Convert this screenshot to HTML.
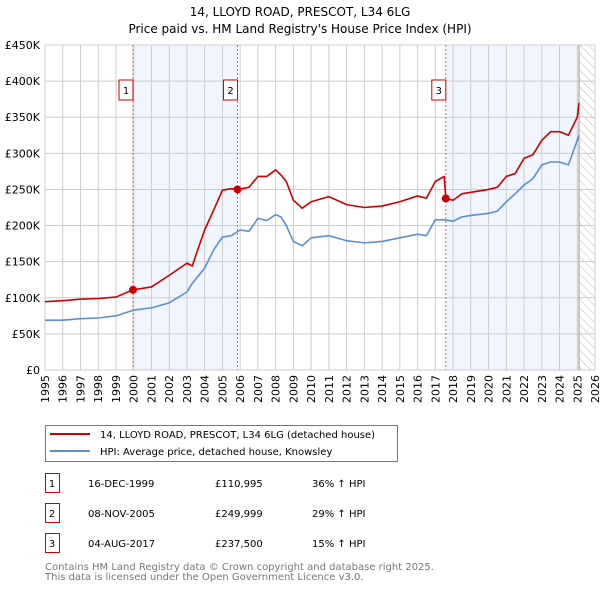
<!DOCTYPE html>
<html><head><meta charset="utf-8"><style>
body{margin:0;background:#fff;font-family:"DejaVu Sans","Liberation Sans",sans-serif}
svg{display:block}
</style></head><body>
<svg id="c" width="600" height="590" xmlns="http://www.w3.org/2000/svg" font-family="DejaVu Sans, Liberation Sans, sans-serif">
<defs><pattern id="hatch" width="6" height="6" patternUnits="userSpaceOnUse" patternTransform="rotate(-45)"><line x1="0" y1="0" x2="0" y2="6" stroke="#bbb" stroke-width="1"/></pattern></defs>
<text x="300" y="16" text-anchor="middle" font-size="12">14, LLOYD ROAD, PRESCOT, L34 6LG</text>
<text x="300" y="33" text-anchor="middle" font-size="12">Price paid vs. HM Land Registry's House Price Index (HPI)</text>
<g id="plot"></g>
<g>
<rect x="45.5" y="425.5" width="352" height="36" fill="#fff" stroke="#777"/>
<line x1="50" y1="434" x2="90" y2="434" stroke="#cc0000" stroke-width="2"/>
<text x="100" y="438" font-size="10">14, LLOYD ROAD, PRESCOT, L34 6LG (detached house)</text>
<line x1="50" y1="451" x2="90" y2="451" stroke="#5b8fd0" stroke-width="2"/>
<text x="100" y="455" font-size="10">HPI: Average price, detached house, Knowsley</text>
</g>
<g id="table" font-size="10"></g>
<text x="45" y="570" font-size="10" fill="#777">Contains HM Land Registry data © Crown copyright and database right 2025.</text>
<text x="45" y="580" font-size="10" fill="#777">This data is licensed under the Open Government Licence v3.0.</text>
</svg>
<script>
const hpiYears=[1995,1996,1997,1998,1999,2000,2001,2002,2003,2003.3,2004,2004.5,2005,2005.5,2006,2006.5,2007,2007.5,2008,2008.3,2008.6,2009,2009.5,2010,2011,2012,2013,2014,2015,2016,2016.5,2017,2017.5,2018,2018.5,2019,2020,2020.5,2021,2021.5,2022,2022.5,2023,2023.5,2024,2024.5,2025,2025.1];
const hpiValues=[69,69,71,72,75,83,86,93,108,120,141,166,184,186,194,192,210,207,215,212,200,178,172,183,186,179,176,178,183,188,186,208,208,206,212,214,217,220,233,244,256,265,284,288,288,284,318,325];
const priceYears=[1995,1996,1997,1998,1999,1999.96,2001,2002,2003,2003.3,2003.6,2004,2004.5,2005,2005.5,2005.85,2006.5,2007,2007.5,2008,2008.3,2008.6,2009,2009.5,2010,2011,2012,2013,2014,2015,2016,2016.5,2017,2017.5,2017.59,2018,2018.5,2019,2020,2020.5,2021,2021.5,2022,2022.5,2023,2023.5,2024,2024.5,2025,2025.1];
const priceValues=[94.6,96,98,99,101,111,115,131,148,144,166,194,221,249,251,250,253,268,268,277,270,261,235,224,233,240,229,225,227,233,241,238,261,268,237.5,235,244,246,250,253,268,272,293,298,318,330,330,325,350,370];
const saleYears=[1999.96,2005.85,2017.59];
const saleValues=[110.995,249.999,237.5];
const saleLabels=["1","2","3"];
const saleDates=["16-DEC-1999","08-NOV-2005","04-AUG-2017"];
const salePrices=["£110,995","£249,999","£237,500"];
const saleDiffs=["36% ↑ HPI","29% ↑ HPI","15% ↑ HPI"];
const yTicks=[0,50,100,150,200,250,300,350,400,450];
const yTickLabels=["£0","£50K","£100K","£150K","£200K","£250K","£300K","£350K","£400K","£450K"];
const xTicks=[1995,1996,1997,1998,1999,2000,2001,2002,2003,2004,2005,2006,2007,2008,2009,2010,2011,2012,2013,2014,2015,2016,2017,2018,2019,2020,2021,2022,2023,2024,2025,2026];
const dataEnd=2025.1;

const X0=45,X1=595,Y0=370,Y1=45;
const x=v=>X0+(v-1995)/(2026-1995)*(X1-X0);
const y=v=>Y0-v/450*(Y0-Y1);
const NS="http://www.w3.org/2000/svg";
const plot=document.getElementById('plot');
function mk(tag,at,parent){const e=document.createElementNS(NS,tag);for(const k in at)e.setAttribute(k,at[k]);(parent||plot).appendChild(e);return e;}

let r=mk('rect',{x:x(saleYears[0]),y:Y1,width:x(saleYears[1])-x(saleYears[0]),height:Y0-Y1,fill:'#eef3fc',opacity:0.8});


r=mk('rect',{x:x(saleYears[2]),y:Y1,width:x(dataEnd)-x(saleYears[2]),height:Y0-Y1,fill:'#eef3fc',opacity:0.8});


r=mk('rect',{x:x(dataEnd),y:Y1,width:X1-x(dataEnd),height:Y0-Y1,fill:'url(#hatch)'});



yTicks.forEach((t,i)=>{
  const l=mk('line',{x1:X0,x2:X1,y1:y(t),y2:y(t),stroke:'#ccc'});
  
  
  const tx=mk('text',{x:40,y:y(t)+4,'text-anchor':'end','font-size':'11'});
  tx.textContent=yTickLabels[i];
  
  
});
xTicks.forEach(t=>{
  const l=mk('line',{x1:x(t),x2:x(t),y1:Y1,y2:Y0,stroke:'#ccc'});
  
  
  const tx=mk('text',{x:0,y:0,'font-size':'11','text-anchor':'end',transform:`translate(${x(t)+4},${Y0+5}) rotate(-90)`});
  tx.textContent=t;
  
  
});
const el=mk('line',{x1:x(dataEnd),x2:x(dataEnd),y1:Y1,y2:Y0,stroke:'#999'});



saleYears.forEach((s,i)=>{
  const l=mk('line',{x1:x(s),x2:x(s),y1:Y1,y2:Y0,stroke:'#e06060','stroke-dasharray':'2,2'});
  
  
  const b=mk('rect',{x:x(s)-14,y:80,width:14,height:20,fill:'#fff',stroke:'#cc0000'});
  
  
  const t=mk('text',{x:x(s)-7,y:94,'text-anchor':'middle','font-size':'10'});
  t.textContent=saleLabels[i];
  
  
});

function line(xs,vs,col,name){
  const p=mk('polyline',{points:xs.map((a,i)=>x(a)+','+y(vs[i])).join(' '),fill:'none',stroke:col,'stroke-width':1.6,'stroke-linejoin':'round'});
  
  
}
line(hpiYears,hpiValues,'#5b8fd0','hpi-line');
line(priceYears,priceValues,'#cc0000','price-paid-line');
saleYears.forEach((s,i)=>{
  const c=mk('circle',{cx:x(s),cy:y(saleValues[i]),r:4,fill:'#cc0000'});
  
  
});

const tb=document.getElementById('table');
saleLabels.forEach((lab,i)=>{
  const yy=473+i*30;
  const b=mk('rect',{x:45.5,y:yy+0.5,width:14,height:19,fill:'#fff',stroke:'#cc0000'},tb);
  
  
  const cells=[[52,lab,'middle'],[88,saleDates[i],'start'],[215,salePrices[i],'start'],[312,saleDiffs[i],'start']];
  cells.forEach(([cx,txt,a],j)=>{
    const t=mk('text',{x:cx,y:yy+14,'text-anchor':a},tb);
    t.textContent=txt;
    
    
  });
});
</script>
</body></html>
